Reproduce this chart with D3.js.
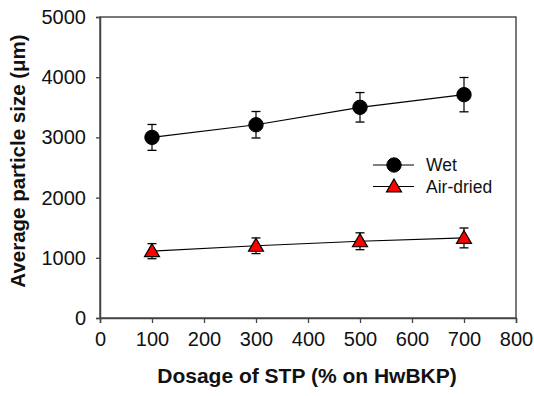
<!DOCTYPE html>
<html lang="en">
<head>
<meta charset="utf-8">
<title>Average particle size vs STP dosage</title>
<script src="https://d3js.org/d3.v7.min.js"></script>
<style>
  body { margin: 0; background: #fff; }
  svg text { font-family: Arial, "Liberation Sans", sans-serif; }
</style>
</head>
<body>
<svg id="chart" width="534" height="396"></svg>
<script>
// data
var dosage = [100, 300, 500, 700];
var wetSize = [3000, 3210, 3500, 3710];
var wetErr = [215, 220, 245, 285];
var airSize = [1110, 1200, 1275, 1330];
var airErr = [125, 130, 140, 165];
var xTicks = [0, 100, 200, 300, 400, 500, 600, 700, 800];
var yTicks = [0, 1000, 2000, 3000, 4000, 5000];

var svg = d3.select("#chart");
var x = d3.scaleLinear().domain([0, 800]).range([100, 516]);
var y = d3.scaleLinear().domain([0, 5000]).range([318, 17]);

// frame
svg.append("rect").attr("x", 100).attr("y", 17).attr("width", 416).attr("height", 301)
  .attr("fill", "none").attr("stroke", "#333").attr("stroke-width", 1.3);

var xAxis = d3.axisBottom(x).tickValues(xTicks).tickSize(5).tickPadding(9).tickFormat(d3.format("d"));
var yAxis = d3.axisLeft(y).tickValues(yTicks).tickSize(4).tickPadding(10).tickFormat(d3.format("d"));

var gx = svg.append("g").attr("transform", "translate(0,318)").call(xAxis);
var gy = svg.append("g").attr("transform", "translate(100,0)").call(yAxis);
[gx, gy].forEach(function (g) {
  g.select(".domain").attr("stroke", "#444").attr("stroke-width", 1.5);
  g.selectAll(".tick line").attr("stroke", "#444").attr("stroke-width", 1.3);
  g.selectAll(".tick text").attr("fill", "#111").style("font-size", "20px")
    .style("font-family", "Arial, 'Liberation Sans', sans-serif");
});

// axis titles
svg.append("text").attr("x", 307).attr("y", 383).attr("text-anchor", "middle")
  .style("font-size", "21px").style("font-weight", "bold").attr("fill", "#111")
  .text("Dosage of STP (% on HwBKP)");
svg.append("text").attr("transform", "translate(25,161) rotate(-90)").attr("text-anchor", "middle")
  .style("font-size", "20.5px").style("font-weight", "bold").attr("fill", "#111")
  .text("Average particle size (\u03bcm)");

function series(vals, errs, shape) {
  var pts = dosage.map(function (d, i) { return { x: d, y: vals[i], e: errs[i] }; });
  var g = svg.append("g");
  g.append("path").datum(pts)
    .attr("d", d3.line().x(function (d) { return x(d.x); }).y(function (d) { return y(d.y); }))
    .attr("fill", "none").attr("stroke", "#000").attr("stroke-width", 1.2);
  var eb = g.selectAll("g.err").data(pts).enter().append("g").attr("class", "err");
  eb.append("line").attr("x1", function (d) { return x(d.x); }).attr("x2", function (d) { return x(d.x); })
    .attr("y1", function (d) { return y(d.y - d.e); }).attr("y2", function (d) { return y(d.y + d.e); })
    .attr("stroke", "#000").attr("stroke-width", 1.2);
  [-1, 1].forEach(function (s) {
    eb.append("line").attr("x1", function (d) { return x(d.x) - 4.5; }).attr("x2", function (d) { return x(d.x) + 4.5; })
      .attr("y1", function (d) { return y(d.y + s * d.e); }).attr("y2", function (d) { return y(d.y + s * d.e); })
      .attr("stroke", "#000").attr("stroke-width", 1.3);
  });
  drawMarker(g.selectAll("g.m").data(pts).enter().append("g")
    .attr("transform", function (d) { return "translate(" + x(d.x) + "," + y(d.y) + ")"; }), shape);
}

function drawMarker(sel, shape) {
  if (shape === "circle") {
    sel.append("circle").attr("r", 7.2).attr("fill", "#000").attr("stroke", "#000");
  } else {
    sel.append("path").attr("d", "M0,-7.5L7.5,5.5L-7.5,5.5Z")
      .attr("fill", "#ff0000").attr("stroke", "#000").attr("stroke-width", 1.2);
  }
}

series(wetSize, wetErr, "circle");
series(airSize, airErr, "triangle");

// legend
var legend = [{ name: "Wet", shape: "circle", y: 165 }, { name: "Air-dried", shape: "triangle", y: 186.5 }];
var lg = svg.selectAll("g.legend").data(legend).enter().append("g").attr("class", "legend")
  .attr("transform", function (d) { return "translate(394," + d.y + ")"; });
lg.append("line").attr("x1", -21).attr("x2", 20).attr("stroke", "#000").attr("stroke-width", 1.2);
lg.each(function (d) { drawMarker(d3.select(this), d.shape); });
lg.append("text").attr("x", 32).attr("y", 6).style("font-size", "17.5px").attr("fill", "#111")
  .text(function (d) { return d.name; });
</script>
</body>
</html>
